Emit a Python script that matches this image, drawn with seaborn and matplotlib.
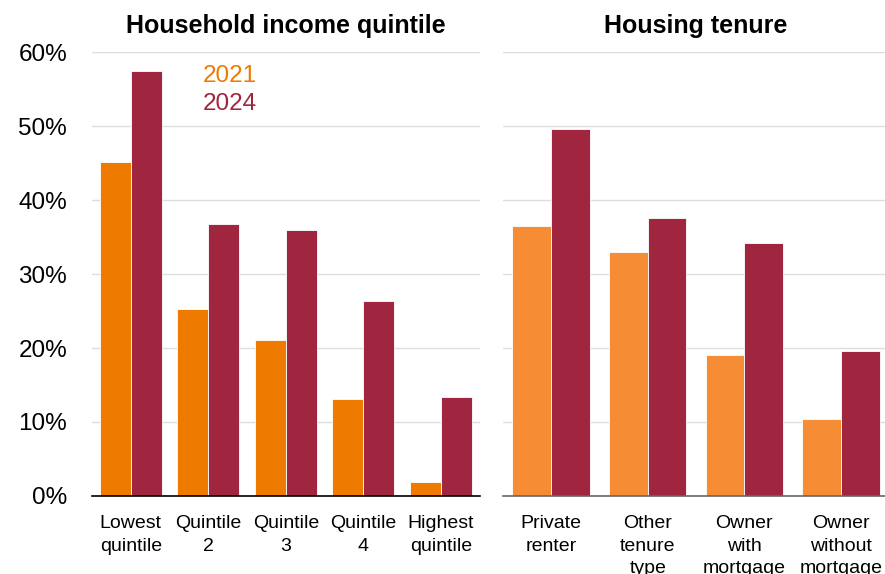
import matplotlib
matplotlib.use("Agg")
import matplotlib.pyplot as plt
import seaborn as sns
import pandas as pd
from matplotlib.ticker import PercentFormatter

sns.set_theme(style="white")
plt.rcParams["font.family"] = ["Liberation Sans", "DejaVu Sans"]
plt.rcParams["text.color"] = "black"
plt.rcParams["xtick.color"] = "black"
plt.rcParams["ytick.color"] = "black"

years = ["2021", "2024"]

income_groups = ["Lowest\nquintile", "Quintile\n2", "Quintile\n3", "Quintile\n4", "Highest\nquintile"]
income_2021 = [45.1, 25.3, 21.1, 13.1, 1.9]
income_2024 = [57.4, 36.8, 35.9, 26.4, 13.4]

tenure_groups = ["Private\nrenter", "Other\ntenure\ntype", "Owner\nwith\nmortgage", "Owner\nwithout\nmortgage"]
tenure_2021 = [36.5, 33.0, 19.1, 10.4]
tenure_2024 = [49.6, 37.6, 34.2, 19.6]

y_ticks = [0, 10, 20, 30, 40, 50, 60]

orange_dark = "#EE7A00"
orange_light = "#F68D35"
maroon = "#A0253F"


def long_table(groups, a, b):
    return pd.DataFrame({
        "group": groups * 2,
        "year": [years[0]] * len(groups) + [years[1]] * len(groups),
        "value": a + b,
    })


fig = plt.figure(figsize=(8.85, 5.74), dpi=100)
ax1 = fig.add_axes([0.104, 0.136, 0.438, 0.773])
ax2 = fig.add_axes([0.568, 0.136, 0.437, 0.773])

panels = [
    (ax1, long_table(income_groups, income_2021, income_2024), orange_dark, "Household income quintile", "black"),
    (ax2, long_table(tenure_groups, tenure_2021, tenure_2024), orange_light, "Housing tenure", "#666666"),
]

for ax, df, orange, title, base_color in panels:
    sns.barplot(data=df, x="group", y="value", hue="year",
                palette={years[0]: orange, years[1]: maroon},
                saturation=1, width=0.8, edgecolor="white", linewidth=0.6,
                ax=ax, legend=False)
    ax.set_ylim(0, 60)
    ax.set_yticks(y_ticks)
    ax.yaxis.set_major_formatter(PercentFormatter(decimals=0))
    ax.grid(axis="y", color="#DDDDDD", linewidth=1)
    ax.set_axisbelow(True)
    for side in ["left", "right", "top"]:
        ax.spines[side].set_visible(False)
    ax.spines["bottom"].set_color(base_color)
    ax.spines["bottom"].set_linewidth(1.2)
    ax.set_xlabel("")
    ax.set_ylabel("")
    ax.set_title(title, fontsize=18, fontweight="bold", pad=14, color="black")
    ax.tick_params(axis="x", length=0, labelsize=14, pad=14)
    ax.tick_params(axis="y", length=0, labelsize=17.5, pad=18)
    for lab in ax.get_xticklabels():
        lab.set_horizontalalignment("center")
        lab.set_multialignment("center")
        lab.set_linespacing(1.4)

ax2.tick_params(axis="y", labelleft=False)

ax1.text(0.285, 0.947, years[0], transform=ax1.transAxes, color=orange_dark,
         fontsize=17.5, ha="left", va="center")
ax1.text(0.285, 0.884, years[1], transform=ax1.transAxes, color=maroon,
         fontsize=17.5, ha="left", va="center")

fig.savefig("out.png", dpi=100)
